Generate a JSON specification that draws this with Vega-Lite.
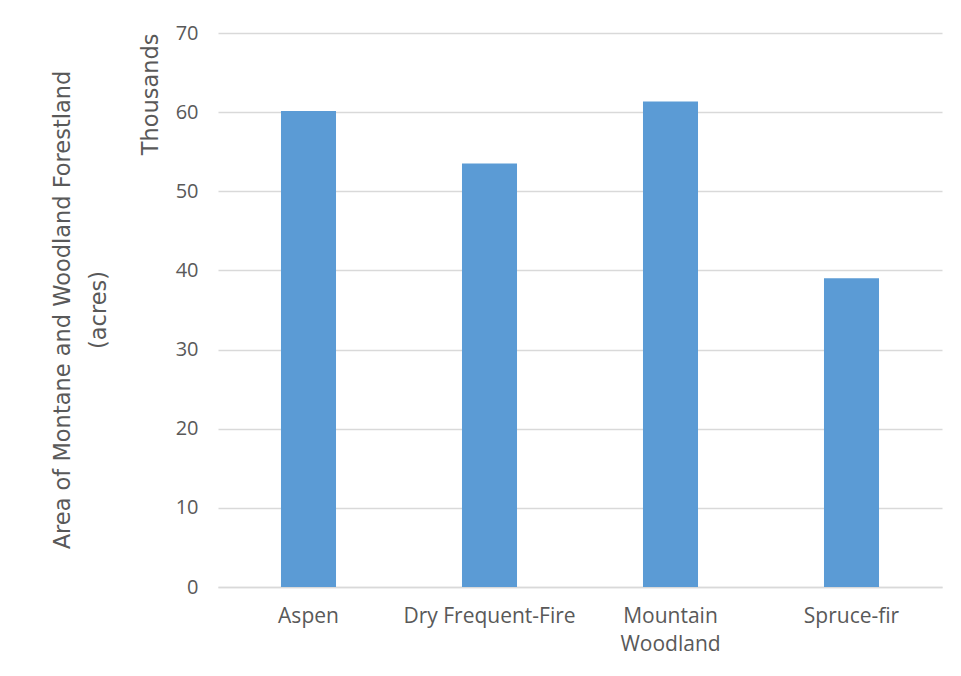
{
  "$schema": "https://vega.github.io/schema/vega-lite/v6.json",
  "width": 724,
  "height": 554,
  "autosize": {"type": "none"},
  "padding": {"left": 218, "top": 33, "right": 19, "bottom": 89},
  "background": "white",
  "title": {
    "text": ["Area of Montane and Woodland Forestland", "(acres)"],
    "orient": "left",
    "anchor": "middle",
    "font": "DejaVu Sans",
    "fontSize": 22.5,
    "fontWeight": "normal",
    "color": "#595959",
    "lineHeight": 36,
    "offset": 29
  },
  "data": {
    "values": [
      {"type": "Aspen", "acres": 60150},
      {"type": "Dry Frequent-Fire", "acres": 53500},
      {"type": "Mountain Woodland", "acres": 61350},
      {"type": "Spruce-fir", "acres": 39000}
    ]
  },
  "mark": {"type": "bar", "color": "#5b9bd5"},
  "encoding": {
    "x": {
      "field": "type",
      "type": "nominal",
      "sort": null,
      "scale": {"paddingInner": 0.696, "paddingOuter": 0.348},
      "axis": {
        "title": null,
        "labelAngle": 0,
        "labelFont": "Open Sans",
        "labelFontSize": 21,
        "labelColor": "#595959",
        "labelPadding": 18,
        "labelLineHeight": 28,
        "labelExpr": "datum.value == 'Mountain Woodland' ? ['Mountain', 'Woodland'] : datum.value",
        "domainColor": "#d9d9d9",
        "domainWidth": 1.3,
        "ticks": false
      }
    },
    "y": {
      "field": "acres",
      "type": "quantitative",
      "scale": {"domain": [0, 70000], "nice": false},
      "axis": {
        "values": [0, 10000, 20000, 30000, 40000, 50000, 60000, 70000],
        "labelExpr": "datum.value / 1000",
        "title": "Thousands",
        "titleAnchor": "end",
        "titleAlign": "right",
        "titleFont": "DejaVu Sans",
        "titleFontSize": 22.5,
        "titleFontWeight": "normal",
        "titleColor": "#595959",
        "titlePadding": 13,
        "labelFont": "Open Sans",
        "labelFontSize": 20,
        "labelColor": "#595959",
        "labelPadding": 20,
        "domain": false,
        "ticks": false,
        "gridColor": "#d9d9d9",
        "gridWidth": 1.3
      }
    }
  },
  "config": {"view": {"stroke": null}}
}
